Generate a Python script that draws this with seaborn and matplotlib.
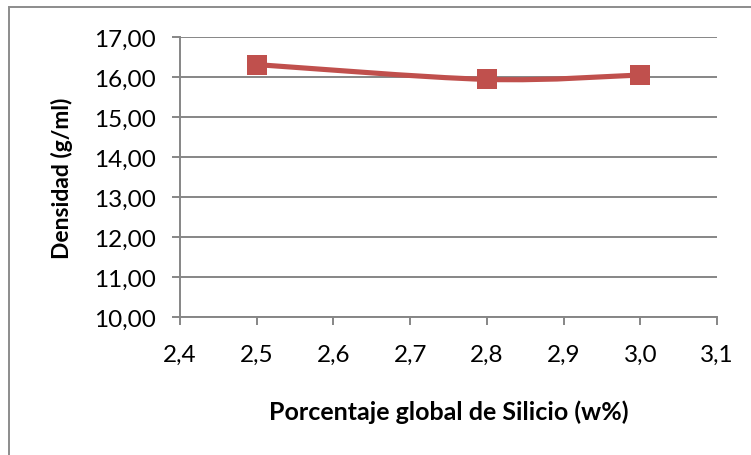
import numpy as np
import pandas as pd
import seaborn as sns
import matplotlib
matplotlib.use("Agg")
import matplotlib.pyplot as plt
from matplotlib.path import Path
from matplotlib.patches import PathPatch, Rectangle
from matplotlib.ticker import FuncFormatter, MultipleLocator

# Data
silicio = [2.5, 2.8, 3.0]
densidad = [16.31, 15.94, 16.05]
x_label = "Porcentaje global de Silicio (w%)"
y_label = "Densidad (g/ml)"

sns.set_theme(style="white")
plt.rcParams["font.family"] = ["Lato", "DejaVu Sans"]

RED = "#C0504D"
GRID = "#868686"

fig = plt.figure(figsize=(7.51, 4.56), dpi=100)
ax = fig.add_axes([180 / 751, 1 - 318 / 456, (717 - 180) / 751, (318 - 38) / 456])

df = pd.DataFrame({"x": silicio, "y": densidad})

# Smoothed connecting line (cubic Bezier segments, Catmull-Rom style control points)
pts = np.column_stack([silicio, densidad])
verts = [tuple(pts[0])]
codes = [Path.MOVETO]
n = len(pts)
for i in range(n - 1):
    p0 = pts[max(i - 1, 0)]
    p1 = pts[i]
    p2 = pts[i + 1]
    p3 = pts[min(i + 2, n - 1)]
    c1 = p1 + (p2 - p0) / 6.0
    c2 = p2 - (p3 - p1) / 6.0
    verts += [tuple(c1), tuple(c2), tuple(p2)]
    codes += [Path.CURVE4] * 3
ax.add_patch(PathPatch(Path(verts, codes), facecolor="none", edgecolor=RED,
                       lw=3.7, capstyle="round", joinstyle="round", zorder=3))

# Square markers
sns.scatterplot(data=df, x="x", y="y", ax=ax, marker="s", s=225, color=RED,
                edgecolor=RED, linewidth=0, zorder=4, legend=False)

ax.set_xlim(2.4, 3.1)
ax.set_ylim(10, 17)
ax.xaxis.set_major_locator(MultipleLocator(0.1))
ax.yaxis.set_major_locator(MultipleLocator(1))
ax.xaxis.set_major_formatter(FuncFormatter(lambda v, p: f"{v:.1f}".replace(".", ",")))
ax.yaxis.set_major_formatter(FuncFormatter(lambda v, p: f"{v:.2f}".replace(".", ",")))

ax.grid(axis="y", color=GRID, lw=1.4)
ax.grid(axis="x", visible=False)
ax.set_axisbelow(True)
for side in ["top", "right"]:
    ax.spines[side].set_visible(False)
for side in ["left", "bottom"]:
    ax.spines[side].set_color(GRID)
    ax.spines[side].set_linewidth(1.4)

ax.tick_params(axis="both", which="major", length=5.5, width=1.4, color=GRID,
               labelsize=17.5, labelcolor="black", direction="out")
ax.tick_params(axis="x", pad=14)
ax.tick_params(axis="y", pad=12)
ax.tick_params(left=True, bottom=True)

ax.set_xlabel(x_label, fontsize=18, fontweight="bold", color="black")
ax.set_ylabel(y_label, fontsize=16.5, fontweight="bold", color="black")
ax.xaxis.set_label_coords(0.5, (318 - 412) / 280)
ax.xaxis.label.set_va("center")
ax.yaxis.set_label_coords((62 - 180) / 537, 0.5)
ax.yaxis.label.set_va("center")

# Chart-area border
fig.patches.append(Rectangle((9 / 751, -0.05), 1.2, 1 - 8 / 456 + 0.05,
                             transform=fig.transFigure, fill=False,
                             edgecolor="#8C8C8C", lw=1.4))

fig.savefig("out.png", dpi=100)
